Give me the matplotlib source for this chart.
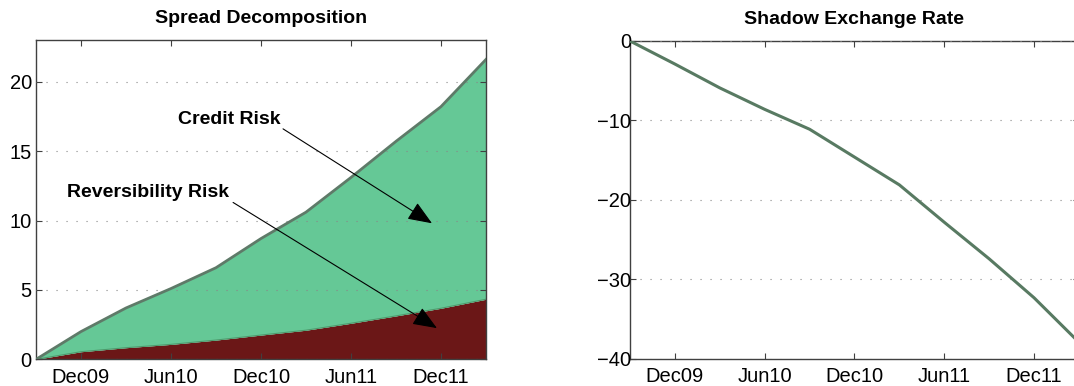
import matplotlib.pyplot as plt
import numpy as np

plt.rcParams["font.family"] = ["Liberation Sans", "DejaVu Sans"]

# quarterly observations Sep09 .. Mar12
quarters = ["Sep09", "Dec09", "Mar10", "Jun10", "Sep10", "Dec10",
            "Mar11", "Jun11", "Sep11", "Dec11", "Mar12"]
total_spread = [0.0, 2.0, 3.7, 5.1, 6.6, 8.7, 10.6, 13.1, 15.7, 18.2, 21.6]
reversibility = [0.0, 0.55, 0.84, 1.08, 1.39, 1.75, 2.1, 2.6, 3.13, 3.68, 4.33]
shadow_rate = [0.0, -2.9, -5.9, -8.6, -11.1, -14.6, -18.1, -22.8, -27.4, -32.3, -37.9]
tick_labels = ["Dec09", "Jun10", "Dec10", "Jun11", "Dec11"]

x = np.arange(len(quarters))
tick_pos = [quarters.index(t) for t in tick_labels]

green = "#65c896"
darkred = "#6b1717"
edge = "#5e7a68"
axcol = "#404040"

fig = plt.figure(figsize=(10.74, 3.86), dpi=100, facecolor="w")

def style(ax, pad):
    for s in ax.spines.values():
        s.set_color(axcol)
        s.set_linewidth(1.0)
    ax.tick_params(direction="in", length=4, width=0.8, color=axcol,
                   top=True, right=True, labelsize=14.5, pad=pad)
    ax.tick_params(axis="x", pad=6)
    ax.set_xticks(tick_pos)
    ax.set_xticklabels(tick_labels)
    ax.set_xlim(x[0], x[-1])
    ax.yaxis.grid(True, linestyle=(0, (1, 8)), color="#888888", linewidth=0.8)
    ax.set_axisbelow(False)

# left: spread decomposition
ax1 = fig.add_axes([0.0335, 0.069, 0.419, 0.8274])
ax1.fill_between(x, 0, reversibility, color=darkred, lw=0, zorder=1)
ax1.fill_between(x, reversibility, total_spread, color=green, lw=0, zorder=1)
ax1.plot(x, reversibility, color="#4d9a6c", lw=0.8, zorder=2)
ax1.plot(x, total_spread, color=edge, lw=2.0, zorder=3)
ax1.set_ylim(0, 23)
ax1.set_yticks([0, 5, 10, 15, 20])
style(ax1, 3)
ax1.set_title("Spread Decomposition", fontsize=14, fontweight="bold", pad=12)

arrow = dict(arrowstyle="-|>,head_length=0.75,head_width=0.3",
             color="black", lw=0.8, mutation_scale=20, shrinkA=0, shrinkB=0)
ax1.text(4.3, 17.3, "Credit Risk", fontsize=14, fontweight="bold",
         ha="center", va="center")
ax1.annotate("", xy=(8.8, 9.8), xytext=(5.49, 16.6), arrowprops=arrow)
ax1.text(2.5, 12.0, "Reversibility Risk", fontsize=14, fontweight="bold",
         ha="center", va="center")
ax1.annotate("", xy=(8.91, 2.25), xytext=(4.38, 11.3), arrowprops=arrow)

# right: shadow exchange rate
ax2 = fig.add_axes([0.5866, 0.07, 0.418, 0.8238])
ax2.plot(x, shadow_rate, color="#587a62", lw=2.2, zorder=3)
ax2.set_ylim(-40, 0)
ax2.set_yticks([-40, -30, -20, -10, 0])
style(ax2, -1)
ax2.set_title("Shadow Exchange Rate", fontsize=14, fontweight="bold", pad=12)

fig.savefig("out.png", dpi=100)
